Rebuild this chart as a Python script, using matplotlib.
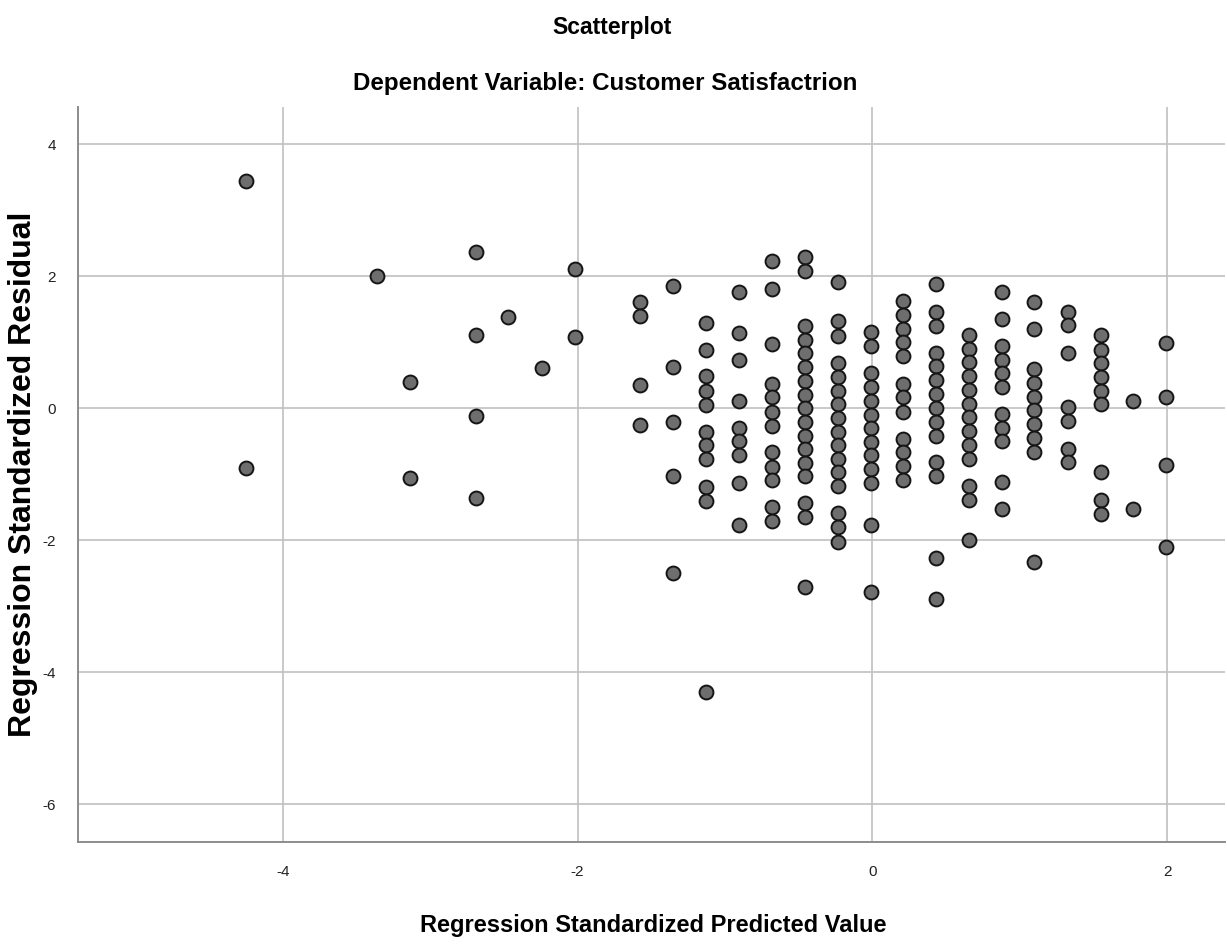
import numpy as np
import matplotlib
matplotlib.use("Agg")
import matplotlib.pyplot as plt

plt.rcParams['axes.unicode_minus'] = False

# predicted value columns (standardized) and residuals in each column
pred_cols = [-4.25, -3.36, -3.14, -2.69, -2.47, -2.24, -2.02, -1.575, -1.35,
             -1.13, -0.905, -0.68, -0.455, -0.235, -0.01, 0.21, 0.435, 0.655,
             0.88, 1.10, 1.325, 1.55, 1.77, 1.995]

resid_cols = [
    [3.44, -0.91],
    [2.00],
    [0.39, -1.06],
    [2.36, 1.11, -0.13, -1.36],
    [1.38],
    [0.61],
    [2.11, 1.07],
    [1.61, 1.39, 0.35, -0.26],
    [1.85, 0.62, -0.22, -1.04, -2.50],
    [1.29, 0.87, 0.48, 0.26, 0.05, -0.36, -0.57, -0.78, -1.20, -1.41, -4.31],
    [1.76, 1.13, 0.73, 0.10, -0.31, -0.51, -0.72, -1.14, -1.77],
    [2.22, 1.80, 0.97, 0.36, 0.16, -0.06, -0.27, -0.67, -0.89, -1.09, -1.50, -1.71],
    [2.28, 2.07, 1.24, 1.03, 0.83, 0.62, 0.41, 0.20, 0.0, -0.21, -0.42, -0.62,
     -0.83, -1.04, -1.44, -1.66, -2.71],
    [1.91, 1.31, 1.09, 0.68, 0.47, 0.26, 0.06, -0.15, -0.36, -0.57, -0.77, -0.97,
     -1.19, -1.60, -1.81, -2.03],
    [1.15, 0.93, 0.53, 0.31, 0.10, -0.11, -0.31, -0.52, -0.72, -0.93, -1.14,
     -1.77, -2.79],
    [1.62, 1.41, 1.20, 1.00, 0.78, 0.36, 0.16, -0.06, -0.47, -0.67, -0.88, -1.09],
    [1.87, 1.46, 1.24, 0.83, 0.63, 0.42, 0.21, 0.0, -0.21, -0.42, -0.82, -1.03,
     -2.28, -2.90],
    [1.11, 0.89, 0.69, 0.48, 0.27, 0.06, -0.14, -0.35, -0.56, -0.77, -1.19, -1.39,
     -2.01],
    [1.76, 1.34, 0.93, 0.73, 0.53, 0.31, -0.10, -0.31, -0.51, -1.13, -1.54],
    [1.61, 1.19, 0.59, 0.37, 0.17, -0.04, -0.25, -0.46, -0.67, -2.34],
    [1.46, 1.25, 0.83, 0.01, -0.20, -0.62, -0.82],
    [1.10, 0.88, 0.68, 0.47, 0.26, 0.06, -0.97, -1.39, -1.61],
    [0.11, -1.54],
    [0.99, 0.16, -0.87, -2.11],
]

x = np.concatenate([[p] * len(r) for p, r in zip(pred_cols, resid_cols)])
y = np.concatenate(resid_cols)

narrow = ['Liberation Sans Narrow', 'Liberation Sans', 'DejaVu Sans']

fig = plt.figure(figsize=(12.27, 9.45), dpi=100)
ax = fig.add_axes([0.0636, 0.108, 0.9344, 0.7777])

ax.scatter(x, y, s=100, c='#6e6e6e', edgecolors='#151515', linewidths=1.4, zorder=3)

ax.set_xlim(-5.39, 2.39)
ax.set_ylim(-6.58, 4.56)
ax.set_xticks([-4, -2, 0, 2])
ax.set_yticks([-6, -4, -2, 0, 2, 4])
ax.grid(True, color='#c0c0c0', linewidth=1.2, zorder=0)
ax.tick_params(length=0, labelsize=11, pad=16, labelcolor='#222222')
for lab in ax.get_xticklabels() + ax.get_yticklabels():
    lab.set_family(['Liberation Sans', 'DejaVu Sans'])
for side in ['top', 'right']:
    ax.spines[side].set_visible(False)
for side in ['left', 'bottom']:
    ax.spines[side].set_color('#8c8c8c')
    ax.spines[side].set_linewidth(1.4)

fig.text(0.499, 0.971, 'Scatterplot', ha='center', va='center', fontsize=16.5,
         family=narrow, fontweight='bold')
fig.text(0.493, 0.912, 'Dependent Variable: Customer Satisfactrion', ha='center',
         va='center', fontsize=17.4, family=narrow, fontweight='bold')
fig.text(0.532, 0.021, 'Regression Standardized Predicted Value', ha='center',
         va='center', fontsize=17, family=narrow, fontweight='bold')
fig.text(0.019, 0.498, 'Regression Standardized Residual', ha='center', va='center',
         rotation=90, fontsize=23, family=['Liberation Sans', 'DejaVu Sans'],
         fontweight='bold')

fig.savefig('out.png', dpi=100)
